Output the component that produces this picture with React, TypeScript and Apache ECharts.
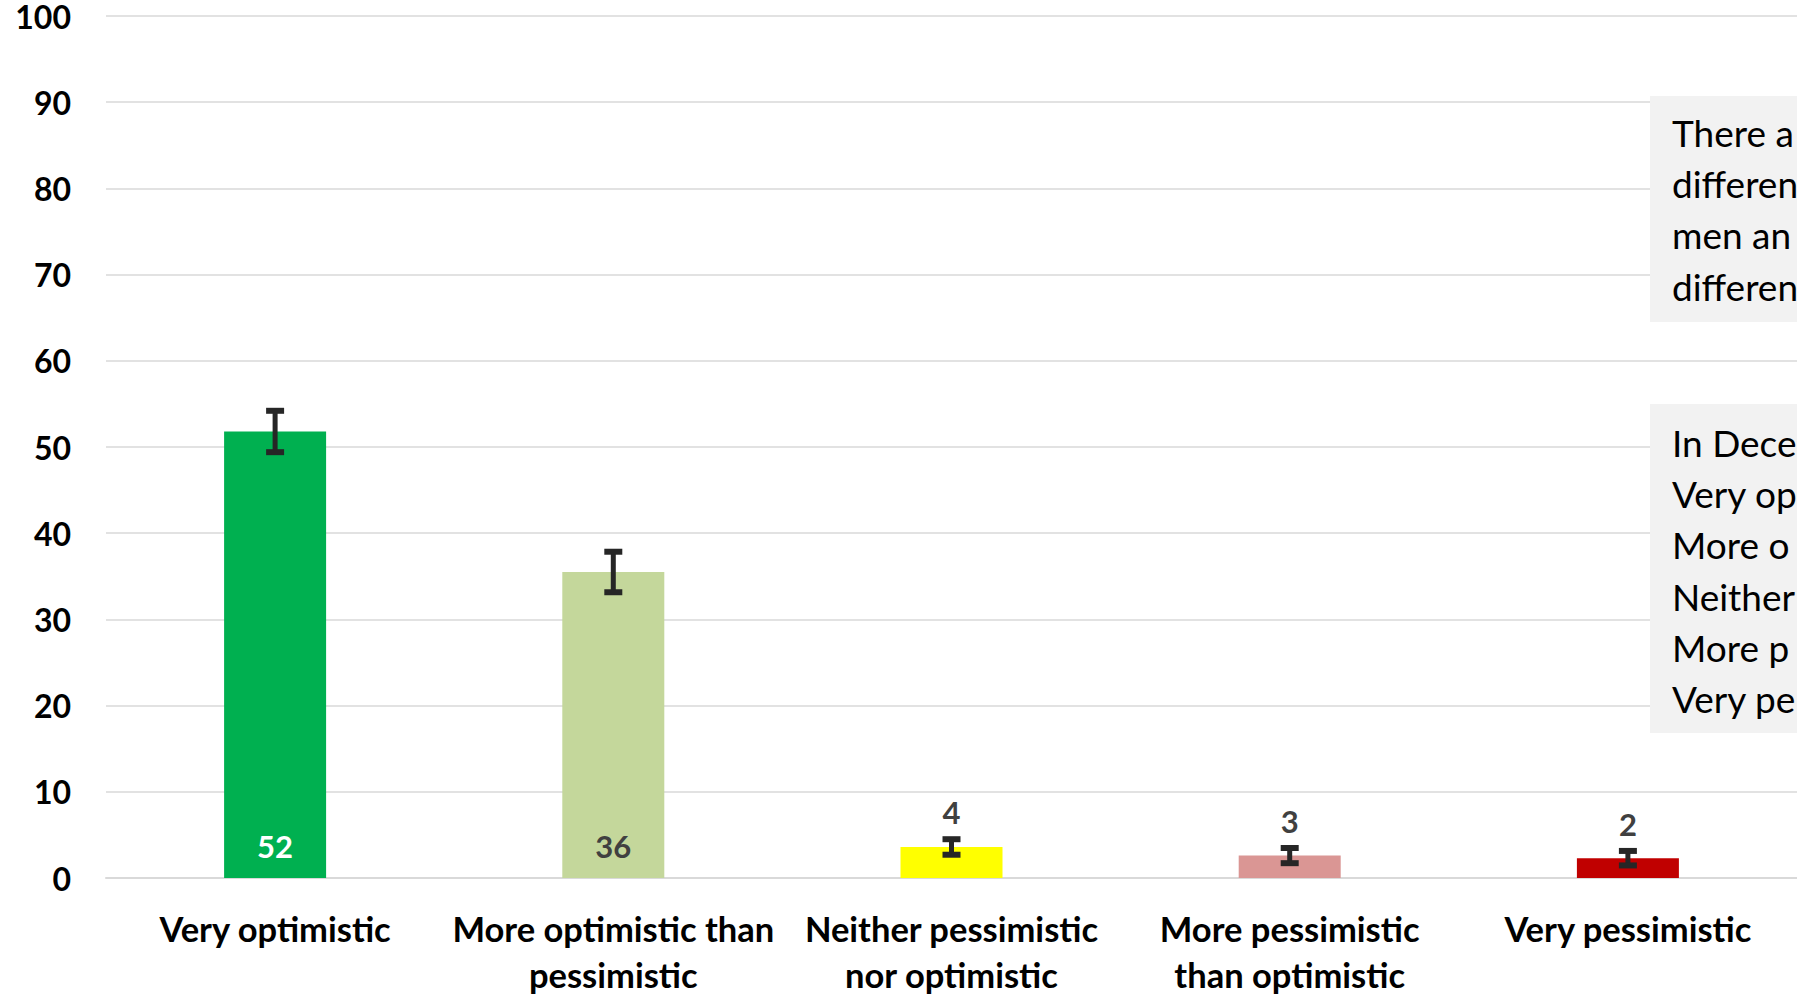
import React, { useEffect, useRef } from "react";
import * as echarts from "echarts";

const categories = [
  "Very optimistic",
  "More optimistic than\npessimistic",
  "Neither pessimistic\nnor optimistic",
  "More pessimistic\nthan optimistic",
  "Very pessimistic",
];
const values = [51.8, 35.5, 3.6, 2.6, 2.3];
const errorMargins = [2.4, 2.35, 0.9, 0.88, 0.84];
const yTicks = [0, 10, 20, 30, 40, 50, 60, 70, 80, 90, 100];
const noteLines1 = ["There a", "differen", "men an", "differen"];
const noteLines2 = ["In Dece", "Very op", "More o", "Neither", "More p", "Very pe"];

const barColors = ["#00b050", "#c4d79b", "#ffff00", "#da9694", "#c00000"];
const labelColors = ["#ffffff", "#404040", "#404040", "#404040", "#404040"];
const FONT = 'Lato, "Open Sans", sans-serif';

export default function App() {
  const ref = useRef<HTMLDivElement>(null);
  useEffect(() => {
    if (!ref.current) return;
    const chart = echarts.init(ref.current, null, { renderer: "svg" });
    const errData = values.map((v, i) => [i, v - errorMargins[i], v + errorMargins[i], v]);
    chart.setOption({
      animation: false,
      backgroundColor: "#ffffff",
      grid: { left: 106, right: 0, top: 12, bottom: 113.5, containLabel: false },
      xAxis: {
        type: "category",
        data: categories,
        axisLine: { show: true, lineStyle: { color: "#d9d9d9", width: 2 } },
        axisTick: { show: false },
        axisLabel: {
          interval: 0,
          margin: 27,
          color: "#000000",
          fontFamily: FONT,
          fontWeight: "bold",
          fontSize: 34.5,
          lineHeight: 46,
        },
      },
      yAxis: {
        type: "value",
        min: yTicks[0],
        max: yTicks[yTicks.length - 1],
        interval: 10,
        axisLine: { show: false },
        axisTick: { show: false },
        splitLine: { lineStyle: { color: "#d9d9d9", width: 1.5 } },
        axisLabel: {
          margin: 35,
          color: "#000000",
          fontFamily: FONT,
          fontWeight: "bold",
          fontSize: 32,
          lineHeight: 24,
        },
      },
      series: [
        {
          type: "bar",
          barWidth: 102,
          data: values.map((v, i) => ({ value: v, itemStyle: { color: barColors[i] } })),
          z: 2,
        },
        {
          type: "custom",
          z: 3,
          data: errData,
          renderItem: (params: any, api: any) => {
            const i = params.dataIndex;
            const x = api.value(0);
            const lo = api.coord([x, api.value(1)]);
            const hi = api.coord([x, api.value(2)]);
            const base = api.coord([x, 0]);
            const v = api.value(3);
            const cx = lo[0];
            const half = 9;
            const stroke = { stroke: "#262626", lineWidth: 5 };
            const capStroke = { stroke: "#262626", lineWidth: 6 };
            const inside = v > 10;
            return {
              type: "group",
              children: [
                { type: "line", shape: { x1: cx, y1: lo[1], x2: cx, y2: hi[1] }, style: stroke },
                { type: "line", shape: { x1: cx - half, y1: hi[1], x2: cx + half, y2: hi[1] }, style: capStroke },
                { type: "line", shape: { x1: cx - half, y1: lo[1], x2: cx + half, y2: lo[1] }, style: capStroke },
                {
                  type: "text",
                  style: {
                    text: String(Math.round(v)),
                    x: cx,
                    y: inside ? base[1] - 32 : hi[1] - 27,
                    align: "center",
                    verticalAlign: "middle",
                    fill: labelColors[i],
                    font: `bold 31px ${FONT}`,
                  },
                },
              ],
            };
          },
        },
      ],
      graphic: [
        {
          type: "rect",
          shape: { x: 1650, y: 96, width: 147, height: 226 },
          style: { fill: "#f2f2f2" },
          z: 10,
        },
        {
          type: "text",
          x: 1672,
          y: 106.5,
          z: 11,
          style: {
            text: noteLines1.join("\n"),
            fill: "#000000",
            font: `37px ${FONT}`,
            lineHeight: 51.3,
            verticalAlign: "top",
          },
        },
        {
          type: "rect",
          shape: { x: 1650, y: 404, width: 147, height: 329 },
          style: { fill: "#f2f2f2" },
          z: 10,
        },
        {
          type: "text",
          x: 1672,
          y: 416.5,
          z: 11,
          style: {
            text: noteLines2.join("\n"),
            fill: "#000000",
            font: `37px ${FONT}`,
            lineHeight: 51.3,
            verticalAlign: "top",
          },
        },
      ],
    });
    return () => chart.dispose();
  }, []);
  return (
    <div
      ref={ref}
      style={{ position: "absolute", left: 0, top: 0, width: 1797, height: 997 }}
    />
  );
}
